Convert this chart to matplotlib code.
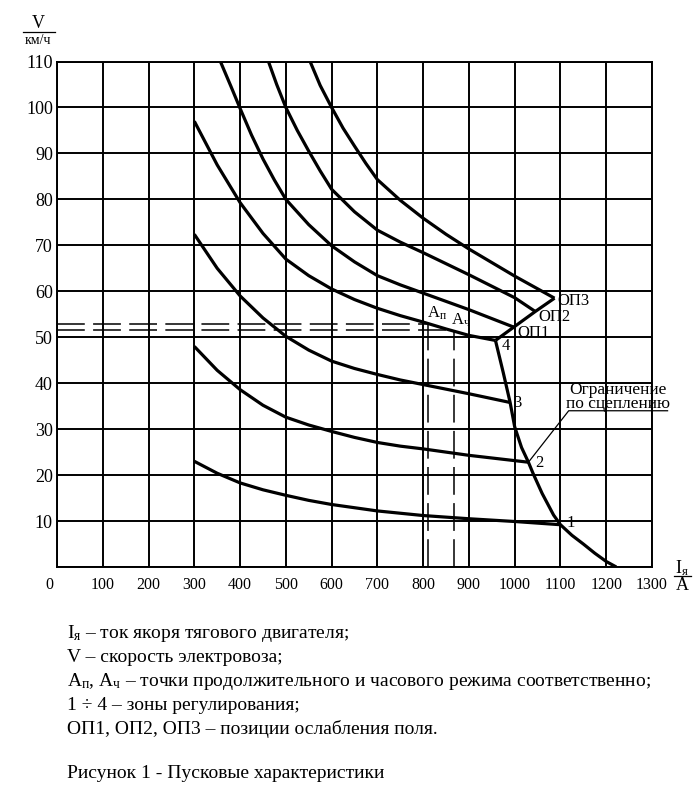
import matplotlib
matplotlib.use('Agg')
import matplotlib.pyplot as plt
from matplotlib.lines import Line2D
from matplotlib.transforms import ScaledTranslation

plt.rcParams['font.family'] = ['Liberation Serif', 'DejaVu Serif']
plt.rcParams['mathtext.fontset'] = 'custom'
plt.rcParams['mathtext.rm'] = 'Liberation Serif'
plt.rcParams['mathtext.it'] = 'Liberation Serif:italic'
plt.rcParams['lines.scale_dashes'] = False

# regulation zones 1..4: armature current (A) -> speed (km/h)
zone1_I = [300, 350, 400, 450, 500, 550, 600, 650, 700, 800, 900, 1000, 1100]
zone1_V = [23.0, 20.4, 18.3, 16.8, 15.6, 14.5, 13.6, 12.9, 12.2, 11.2, 10.5, 9.9, 9.2]
zone2_I = [300, 350, 400, 450, 500, 550, 600, 650, 700, 750, 800, 900, 1030]
zone2_V = [48.0, 42.8, 38.6, 35.2, 32.6, 30.9, 29.5, 28.2, 27.1, 26.3, 25.7, 24.3, 22.8]
zone3_I = [300, 350, 400, 450, 500, 550, 600, 650, 700, 750, 800, 900, 990]
zone3_V = [72.4, 65.0, 59.0, 54.2, 50.2, 47.2, 44.8, 43.2, 41.9, 40.7, 39.7, 37.7, 35.8]
zone4_I = [300, 350, 400, 450, 500, 550, 600, 650, 700, 750, 800, 850, 900, 958]
zone4_V = [97.0, 87.5, 79.3, 72.6, 67.0, 63.4, 60.5, 58.2, 56.3, 54.7, 53.3, 51.8, 50.4, 49.3]

# field weakening positions OP1..OP3
op1_I = [357, 380, 400, 425, 450, 475, 500, 550, 600, 650, 700, 750, 800, 900, 998]
op1_V = [110, 104.6, 99.8, 94.0, 88.8, 84.2, 80.0, 74.5, 69.9, 66.4, 63.4, 61.4, 59.6, 56.0, 52.2]
op2_I = [462, 480, 500, 525, 550, 575, 600, 650, 700, 750, 800, 900, 1000, 1045]
op2_V = [110, 105.0, 100, 95.0, 90.5, 86.2, 82.2, 77.3, 73.3, 70.7, 68.4, 63.6, 58.6, 55.6]
op3_I = [553, 575, 600, 625, 650, 675, 700, 750, 800, 850, 900, 1000, 1087]
op3_V = [110, 104.8, 100, 95.5, 91.6, 87.8, 84.3, 79.8, 75.9, 72.4, 69.2, 63.3, 58.5]

# transition line 4 -> OP1 -> OP2 -> OP3
fw_I = [958, 998, 1045, 1087]
fw_V = [49.3, 52.2, 55.6, 58.5]

# adhesion limit
lim_I = [958, 975, 990, 1000, 1015, 1030, 1040, 1060, 1085, 1100, 1125, 1150, 1175, 1200, 1222]
lim_V = [49.3, 42.3, 35.8, 30.5, 26.0, 22.8, 20.4, 16.0, 11.3, 9.2, 6.9, 5.0, 3.0, 1.2, 0.0]

# continuous / hourly rating points
a_names = [r'$\mathrm{A}_{\mathrm{п}}$', r'$\mathrm{A}_{\mathrm{ч}}$']
a_I = [810, 868]
a_V = [52.8, 51.5]

x_ticks = list(range(0, 1301, 100))
y_ticks = list(range(0, 111, 10))

W, H = 700, 805
fig = plt.figure(figsize=(W / 100, H / 100), dpi=100)
ax = fig.add_axes([57 / W, 1 - 567 / H, 595 / W, 505.5 / H])

ax.set_xlim(0, 1300)
ax.set_ylim(0, 110)
ax.set_xticks(x_ticks, [str(t) for t in x_ticks], fontsize=11.5)
ax.set_yticks(y_ticks, [''] + [str(t) for t in y_ticks[1:]], fontsize=13)
ax.tick_params(length=0)
ax.tick_params(axis='x', pad=7)
ax.tick_params(axis='y', pad=3)
ax.grid(True, color='black', lw=1.4)
ax.set_axisbelow(True)
for sp in ax.spines.values():
    sp.set_linewidth(1.4)
    sp.set_color('black')

# nudge the "0" label left like in the original drawing
lbl0 = ax.xaxis.get_major_ticks()[0].label1
lbl0.set_transform(lbl0.get_transform() + ScaledTranslation(-8 / 100, 0, fig.dpi_scale_trans))

kw = dict(color='black', lw=2.3, solid_joinstyle='round', solid_capstyle='butt')
for xs, ys in [(zone1_I, zone1_V), (zone2_I, zone2_V), (zone3_I, zone3_V),
               (zone4_I, zone4_V), (op1_I, op1_V), (op2_I, op2_V),
               (op3_I, op3_V), (fw_I, fw_V), (lim_I, lim_V)]:
    ax.plot(xs, ys, **kw)

# dashed guide lines to the rating points
for name, xi, vi in zip(a_names, a_I, a_V):
    ax.plot([0, xi], [vi, vi], color='black', lw=1.1, dashes=(20, 6))
    ax.plot([xi, xi], [0, vi], color='black', lw=1.1, dashes=(20, 6))
ax.text(a_I[0] - 2, a_V[0] + 0.5, a_names[0], fontsize=12, ha='left', va='bottom')
ax.text(a_I[1] - 7, a_V[1] + 0.3, a_names[1], fontsize=12, ha='left', va='bottom')

# point labels
ax.text(fw_I[1] + 7, fw_V[1] - 1.2, 'ОП1', fontsize=12, va='center')
ax.text(fw_I[2] + 7, fw_V[2] - 1.2, 'ОП2', fontsize=12, va='center')
ax.text(fw_I[3] + 6, fw_V[3] - 0.6, 'ОП3', fontsize=12, va='center')
ax.text(zone4_I[-1] + 14, zone4_V[-1] - 1.2, '4', fontsize=12, va='center')
ax.text(zone3_I[-1] + 7, zone3_V[-1] - 0.1, '3', fontsize=12, va='center')
ax.text(zone2_I[-1] + 15, zone2_V[-1] - 0.2, '2', fontsize=12, va='center')
ax.text(zone1_I[-1] + 14, zone1_V[-1] + 0.3, '1', fontsize=12, va='center')

# adhesion limit callout
ax.plot([zone2_I[-1], 1118, 1334], [zone2_V[-1], 34.0, 34.0], color='black',
        lw=0.9, clip_on=False)
ax.text(1226, 34.6, 'Ограничение\nпо сцеплению', fontsize=12.5, ha='center',
        va='baseline', linespacing=0.85, clip_on=False)

# axis captions as fractions
fig.text(38 / W, 1 - 24 / H, 'V', fontsize=13, ha='center', va='center')
fig.add_artist(Line2D([23 / W, 55 / W], [1 - 32 / H, 1 - 32 / H], color='black', lw=0.9))
fig.text(38 / W, 1 - 41 / H, 'км/ч', fontsize=10, ha='center', va='center')

fig.text(682 / W, 1 - 568 / H, r'$\mathrm{I}_{\mathrm{я}}$', fontsize=13, ha='center', va='center')
fig.add_artist(Line2D([674 / W, 691 / W], [1 - 576 / H, 1 - 576 / H], color='black', lw=0.9))
fig.text(682 / W, 1 - 586 / H, 'A', fontsize=13, ha='center', va='center')

# legend text below the chart
notes = [
    r'$\mathrm{I}_{\mathrm{я}}$ – ток якоря тягового двигателя;',
    'V – скорость электровоза;',
    r'$\mathrm{A}_{\mathrm{п}}$, $\mathrm{A}_{\mathrm{ч}}$ – точки продолжительного и часового режима соответственно;',
    '1 ÷ 4 – зоны регулирования;',
    'ОП1, ОП2, ОП3 – позиции ослабления поля.',
]
for i, s in enumerate(notes):
    fig.text(67 / W, 1 - (633 + 24 * i) / H, s, fontsize=14, ha='left', va='center')
fig.text(67 / W, 1 - 773 / H, 'Рисунок 1 - Пусковые характеристики', fontsize=14,
         ha='left', va='center')

fig.savefig('out.png', dpi=100)
